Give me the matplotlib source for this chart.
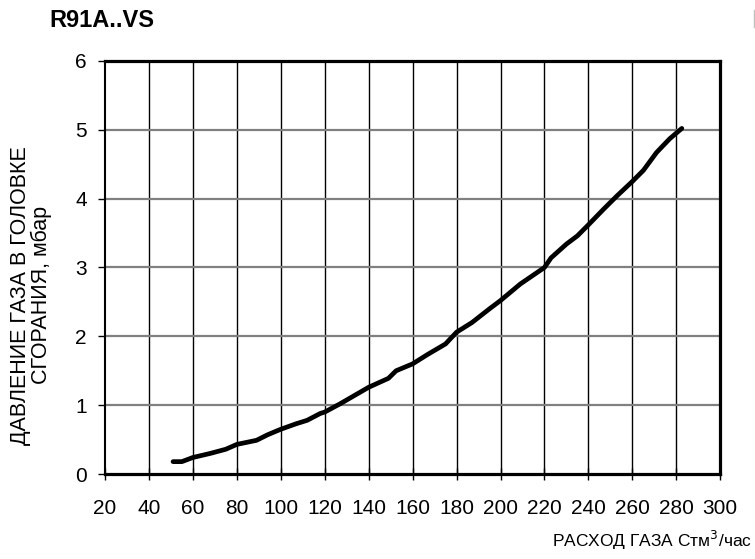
import matplotlib
matplotlib.use("Agg")
import matplotlib.pyplot as plt
from matplotlib.lines import Line2D

plt.rcParams['font.family'] = ['Liberation Sans', 'DejaVu Sans']

# расход газа, Стм3/час
flow = [51, 55, 60, 68, 75, 80, 89, 94, 100, 107, 112, 118, 120, 127, 140,
        149, 152.5, 160, 167, 175, 180, 187, 195, 200, 209, 220, 223, 230,
        235, 240, 247, 253, 260, 265, 271, 277, 282.5]
# давление в головке сгорания, мбар
pressure = [0.18, 0.18, 0.24, 0.30, 0.36, 0.43, 0.49, 0.57, 0.65, 0.73, 0.78,
            0.88, 0.90, 1.02, 1.26, 1.39, 1.50, 1.60, 1.74, 1.89, 2.06, 2.20,
            2.40, 2.52, 2.76, 3.00, 3.14, 3.34, 3.46, 3.62, 3.85, 4.04, 4.25,
            4.41, 4.67, 4.87, 5.02]

x_ticks = list(range(20, 301, 20))
y_ticks = list(range(0, 7))

fig = plt.figure(figsize=(7.55, 5.59), dpi=100)
ax = fig.add_axes([0.139, 0.152, 0.815, 0.739])

# сетка
for xv in x_ticks[1:-1]:
    ax.axvline(xv, color='black', lw=1.0, zorder=1)
for yv in y_ticks[1:-1]:
    ax.axhline(yv, color='#808080', lw=1.6, zorder=1)

ax.plot(flow, pressure, color='black', lw=3.4, solid_capstyle='round', zorder=3)

ax.set_xlim(20, 300)
ax.set_ylim(0, 6)
ax.set_xticks(x_ticks)
ax.set_yticks(y_ticks)
ax.tick_params(axis='x', direction='inout', length=8, width=1, labelsize=15, pad=14)
ax.tick_params(axis='y', direction='out', length=5, width=1, labelsize=15, pad=8)

for side in ['top', 'right', 'bottom']:
    ax.spines[side].set_linewidth(2.3)
ax.spines['left'].set_linewidth(1.5)

fig.text(0.041, 0.472, "ДАВЛЕНИЕ ГАЗА В ГОЛОВКЕ\nСГОРАНИЯ, мбар", fontsize=15.5,
         rotation=90, ha='center', va='center', multialignment='center',
         linespacing=1.0)

fig.text(0.066, 0.964, "R91A..VS", fontsize=17, fontweight='bold',
         ha='left', va='center')
fig.text(0.996, 0.033, "РАСХОД ГАЗА Стм$^3$/час", fontsize=12.5,
         ha='right', va='center')

# обрезанный знак у правого края
fig.add_artist(Line2D([0.9985, 0.9985], [0.952, 0.982], color='#c0c0c0', lw=1))

fig.savefig("out.png", dpi=100)
